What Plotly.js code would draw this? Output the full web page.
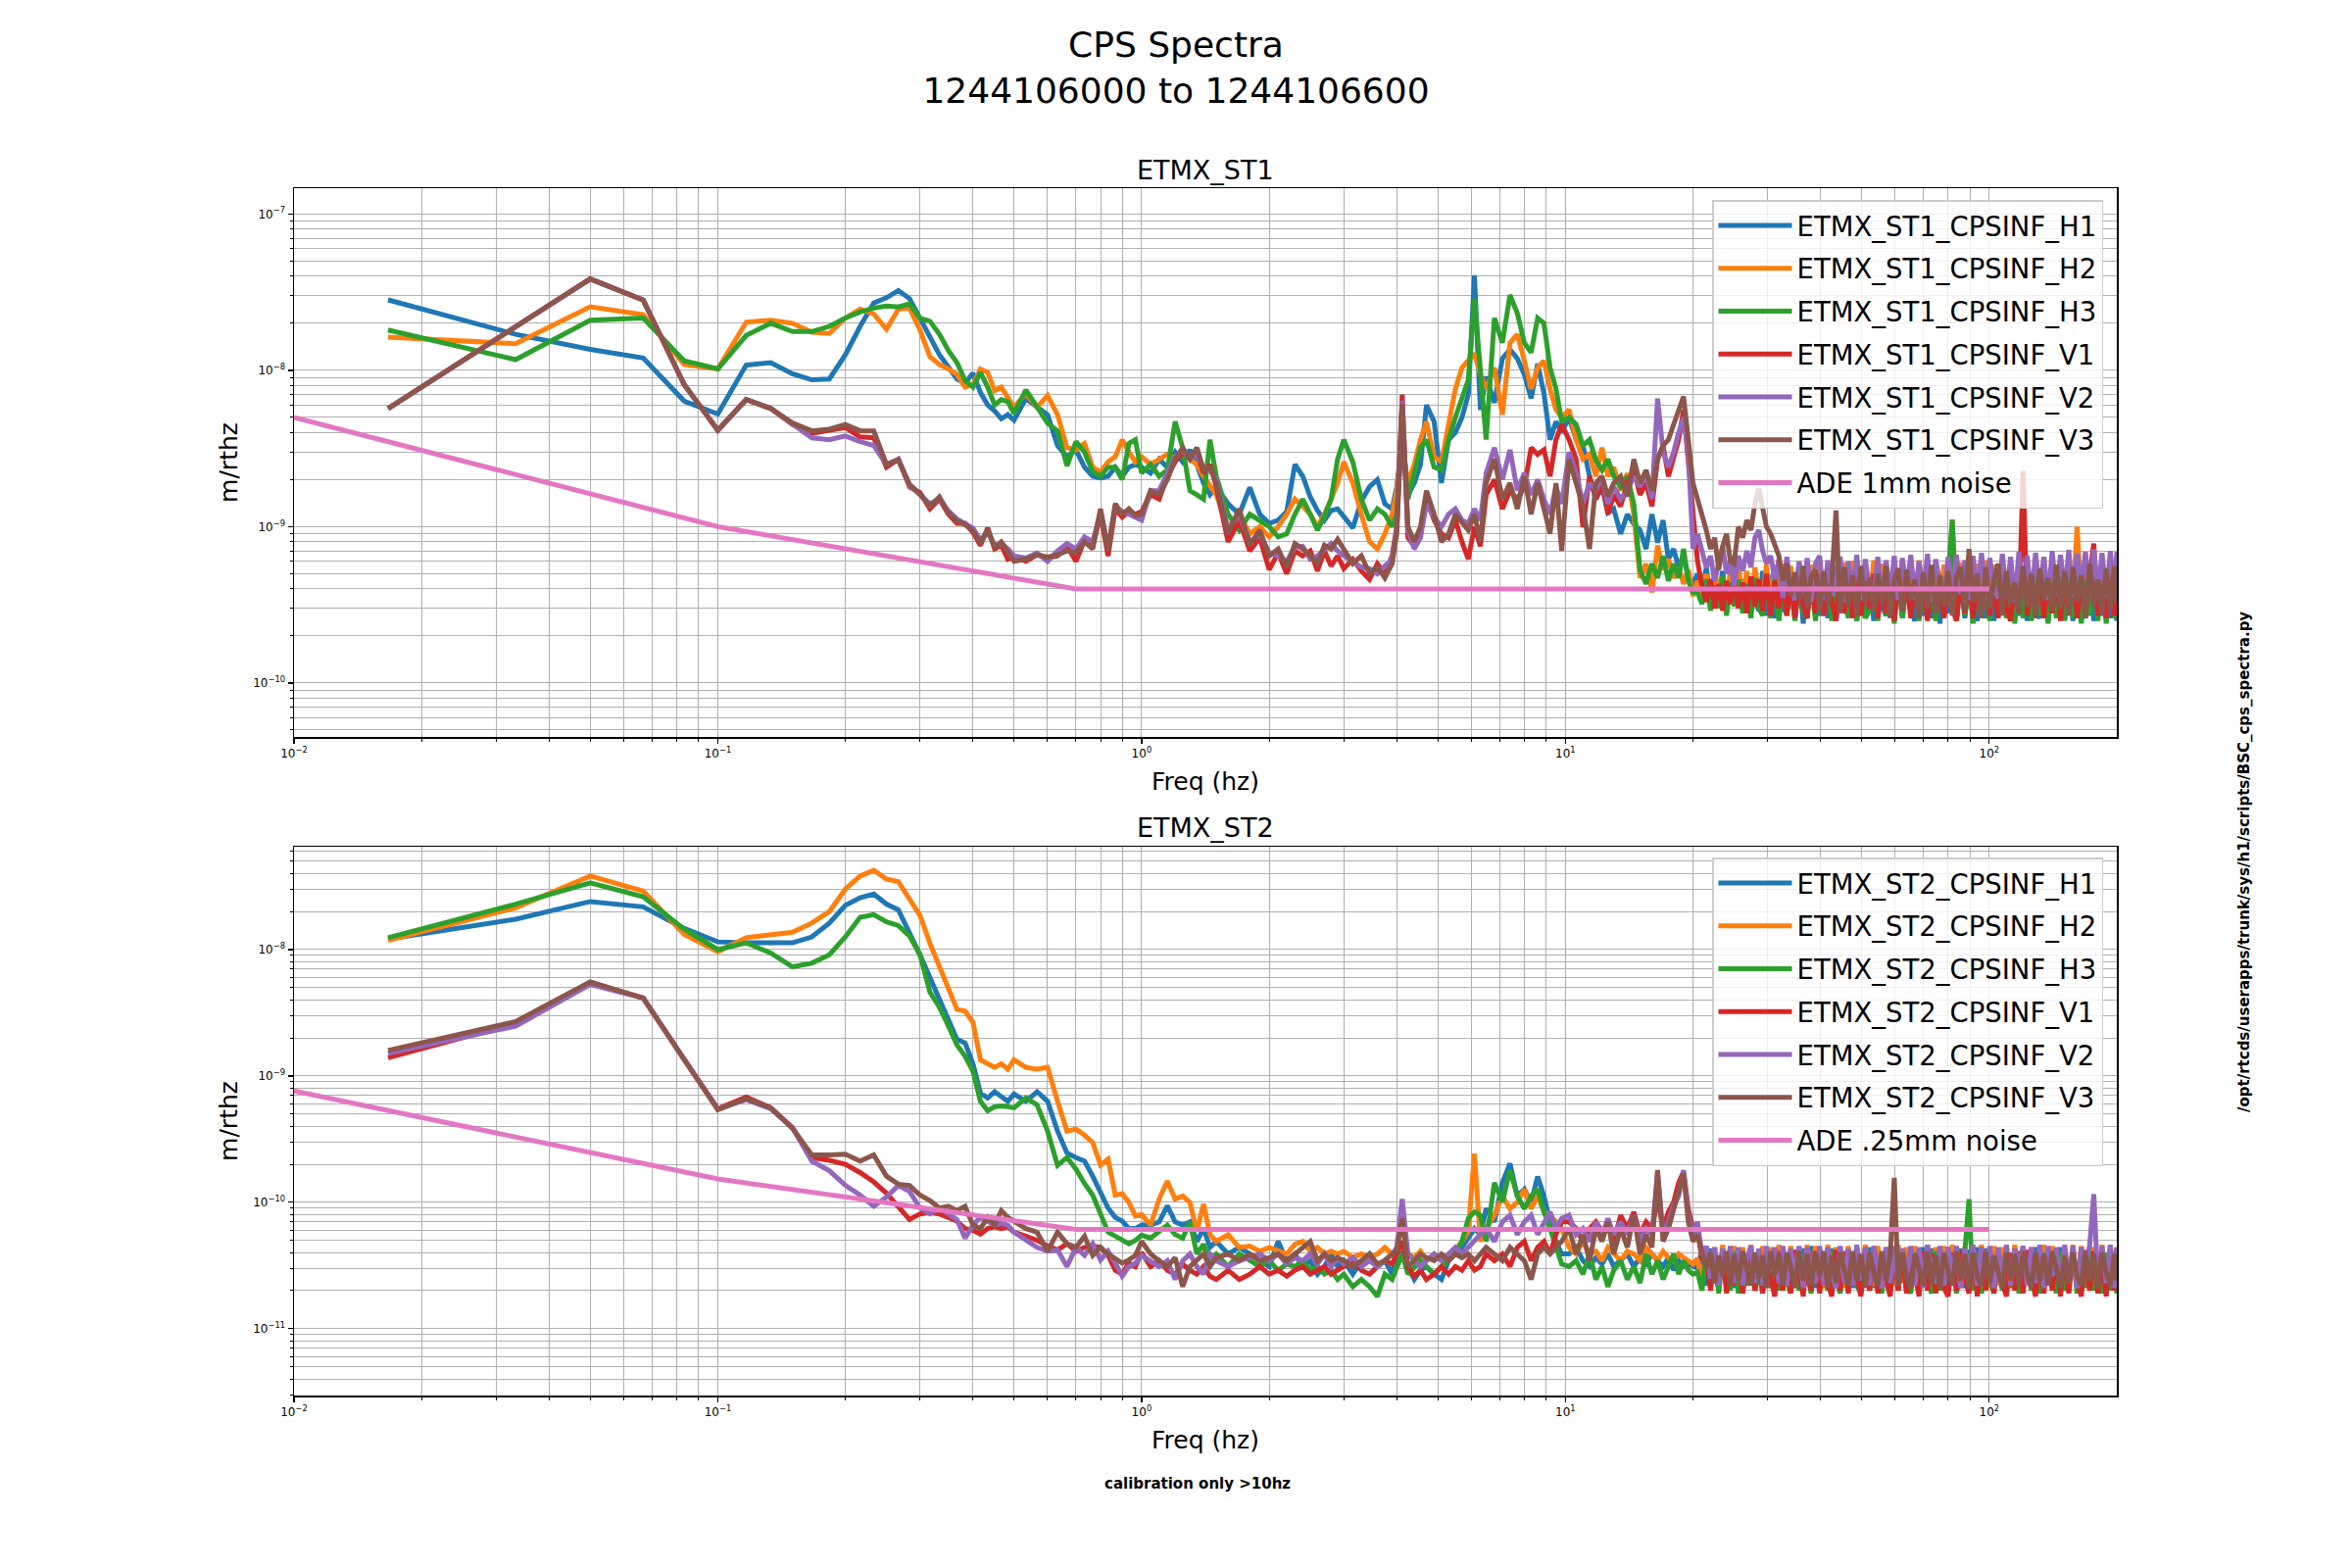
<!DOCTYPE html>
<html><head><meta charset="utf-8">
<script src="https://cdn.plot.ly/plotly-3.0.1.min.js"></script>
<style>html,body{margin:0;padding:0;background:#fff}#chart{width:2400px;height:1600px}</style>
</head><body><div id="chart"></div>
<script>
// Frequency bins (Hz)
const FREQ = [0.01667, 0.03333, 0.05, 0.06667, 0.08333, 0.1, 0.11667, 0.13333, 0.15, 0.16667, 0.18333, 0.2, 0.21667, 0.23333, 0.25, 0.26667, 0.28333, 0.3, 0.31667, 0.33333, 0.35, 0.36667, 0.38333, 0.4, 0.41667, 0.43333, 0.45, 0.46667, 0.48333, 0.5,
  0.53333, 0.56667, 0.6, 0.63333, 0.66667, 0.7, 0.73333, 0.76667, 0.8, 0.83333, 0.86667, 0.9, 0.93333, 0.96667, 1.0,
  1.05, 1.1, 1.15, 1.2, 1.25, 1.3, 1.35, 1.4, 1.45, 1.5, 1.6, 1.7, 1.8, 1.9, 2.0, 2.1, 2.2, 2.3, 2.4, 2.5, 2.6, 2.7, 2.8, 2.9, 3.0, 3.15, 3.3, 3.45, 3.6, 3.75, 3.9, 4.0, 4.12, 4.25, 4.4, 4.55, 4.7, 4.9, 5.1, 5.3, 5.5, 5.7, 5.9, 6.1, 6.3, 6.5, 6.8, 7.1, 7.4, 7.7, 8.0, 8.3, 8.6, 8.9, 9.2, 9.5, 9.8,
  10.2, 10.6, 11, 11.4, 11.8, 12.2, 12.6, 13, 13.5, 14, 14.5, 15, 15.5, 16, 16.5, 17, 17.5, 18, 18.5, 19, 19.5, 20,
  20.5, 21, 21.5, 22, 22.5, 23, 23.5, 24, 24.5, 25,
  25.6, 26.2, 26.8, 27.4, 28, 28.6, 29.2, 29.8, 30.5, 31.2,
  31.9, 32.6, 33.3, 34, 34.8, 35.6, 36.4, 37.2, 38, 38.9,
  39.8, 40.7, 41.6, 42.5, 43.5, 44.5, 45.5, 46.5, 47.6, 48.7,
  49.8, 51, 52.2, 53.4, 54.6, 55.8, 57.1, 58.4, 59.7, 61,
  62.4, 63.8, 65.3, 66.8, 68.3, 69.9, 71.5, 73.1, 74.8, 76.5,
  78.2, 80, 81.8, 83.7, 85.6, 87.6, 89.6, 91.6, 93.7, 95.9,
  98.1, 100.3, 102.6, 105, 107.4, 109.8, 112.3, 114.9, 117.5, 120.2,
  122.9, 125.7, 128.6, 131.6, 134.6, 137.7, 140.8, 144, 147.3, 150.7,
  154.1, 157.6, 161.2, 164.9, 168.7, 172.6, 176.5, 180.5, 184.6, 188.8,
  193.1, 197.5, 200];

// Spectral values in units of 1e-10 m/rthz
const UNIT = 1e-10;

const ST1_H1 = [282, 170, 136, 120, 63.5, 52.5, 108, 112, 95, 87, 88, 126, 191, 269, 291, 324, 288, 216, 160, 126, 105, 88, 83, 96, 72, 60, 55, 49, 52, 48,
  66, 58, 52, 33, 28, 31, 24, 21, 20.5, 21, 24, 21, 24, 25, 24,
  22, 27, 24, 30, 26, 31, 25, 19, 16, 18, 14, 12, 17.8, 12, 10.5, 11, 12.5, 25, 21, 15.5, 12.7, 11, 12.7, 13, 11.6, 9.8, 14.6, 18, 20, 14, 13, 18, 36, 16, 19, 25, 60, 47, 19, 36, 40, 50, 70, 406, 56, 91, 62, 119, 136, 119, 94, 66, 110, 71, 36, 47, 40,
  50, 36, 33, 21, 15, 18, 12.3, 13, 9, 12, 10.4, 9.5, 7.2, 12, 7.9, 11, 6.2, 7.2, 5.5, 6.5, 4.7, 4.3,
  5.0, 3.8, 5.5, 3.3, 4.8, 3.6, 5.2, 3.0, 4.6, 6.5,
  3.1, 4.6, 2.8, 4.7, 3.4, 2.9, 5.2, 2.7, 4.9, 2.6,
  4.8, 3.0, 2.8, 5.0, 2.6, 4.7, 2.4, 4.6, 3.2, 5.1,
  2.7, 4.8, 2.6, 5.0, 2.5, 4.9, 3.0, 2.7, 4.6, 2.5,
  5.0, 2.6, 4.8, 2.5, 4.9, 3.1, 2.7, 4.6, 2.5, 5.0,
  2.6, 4.7, 2.9, 2.5, 4.8, 2.7, 4.9, 2.6, 5.0, 2.4,
  4.6, 2.8, 4.8, 2.5, 4.9, 2.6, 4.7, 3.0, 2.5, 4.8,
  2.6, 5.0, 2.5, 4.7, 2.8, 4.9, 2.5, 4.6, 2.7, 5.0,
  2.5, 4.8, 2.9, 2.6, 4.9, 2.5, 4.7, 2.8, 5.0, 2.6,
  4.8, 2.5, 4.9, 3.0, 2.6, 4.7, 2.5, 4.8, 2.7, 4.9,
  2.6, 4.8, 2.5];
const ST1_H2 = [163, 148, 255, 227, 109, 102, 203, 209, 200, 175, 172, 216, 246, 229, 183, 246, 250, 181, 122, 109, 102, 94, 78, 81, 102, 97, 74, 78, 67, 58,
  71, 58, 69, 52, 32, 31, 34, 24, 22.4, 26, 28, 36, 30, 26, 28,
  25, 27, 29, 27, 31, 27, 25, 21, 18, 16, 10, 12, 9, 10, 8.6, 10, 12, 15, 13.5, 12, 10, 12, 15, 19, 26, 19, 12, 8, 7.2, 9, 12, 17, 33, 19, 25, 36, 47, 28, 26, 47, 76, 104, 115, 128, 94, 76, 104, 52, 150, 170, 115, 76, 104, 115, 76, 56, 50,
  56, 36, 27, 29, 21, 32, 21, 24, 17, 22, 12, 4.7, 5.8, 3.8, 7.6, 5.3, 6.2, 4.7, 5.5, 4.3, 5.3, 3.6,
  4.5, 3.5, 5.0, 3.2, 5.3, 3.6, 4.8, 3.1, 5.4, 3.3,
  5.6, 3.4, 5.2, 3.1, 5.5, 3.8, 3.2, 5.7, 3.3, 5.4,
  3.1, 5.8, 3.5, 5.6, 3.2, 5.9, 3.3, 3.0, 5.7, 3.4,
  6.0, 3.2, 5.8, 3.6, 5.5, 3.1, 5.9, 3.3, 6.0, 3.2,
  3.5, 5.7, 3.1, 6.1, 3.3, 5.8, 3.6, 3.2, 5.9, 3.1,
  6.0, 3.4, 5.6, 3.2, 6.1, 3.3, 5.8, 3.1, 6.0, 3.5,
  5.7, 3.2, 11.1, 3.3, 5.9, 3.1, 6.0, 3.4, 5.8, 3.2,
  6.1, 3.3, 5.7, 3.6, 6.2, 3.1, 5.9, 3.3, 6.0, 3.2,
  6.2, 3.4, 5.8, 3.1, 6.1, 3.3, 6.0, 3.5, 6.3, 3.2,
  5.9, 3.4, 10.0, 3.3, 6.2, 3.1, 6.0, 3.4, 6.3, 3.2,
  6.1, 3.3, 6.2];
const ST1_H3 = [181, 117, 209, 216, 115, 102, 167, 200, 177, 177, 191, 216, 236, 250, 258, 254, 266, 216, 206, 170, 134, 112, 86, 78, 97, 78, 60, 65, 63, 53,
  75, 58, 46, 41, 24.5, 35, 30, 22.4, 21, 24, 24, 20, 34, 36, 22,
  25, 21, 23, 47, 32, 17, 16, 15, 36, 21, 12, 9.5, 12, 11, 10, 8.6, 9, 12, 15, 12, 9.5, 11.6, 15, 27, 36, 26, 15, 11, 13, 12, 10, 12, 40, 15, 22, 32, 36, 24, 23, 36, 50, 68, 87, 287, 91, 36, 216, 150, 303, 232, 150, 130, 216, 200, 104, 76, 47,
  50, 45, 33, 36, 26.6, 23, 27, 21, 18, 21, 14, 5.3, 4.3, 5.8, 4.7, 6.5, 4.5, 5.8, 4.7, 7.2, 4.5, 3.8,
  3.8, 3.2, 4.6, 2.9, 4.2, 3.0, 4.8, 2.7, 4.4, 3.1,
  4.6, 2.8, 4.3, 2.6, 4.7, 3.0, 2.7, 4.5, 2.6, 4.8,
  2.5, 4.6, 2.7, 4.4, 2.5, 4.8, 2.9, 2.6, 4.7, 2.5,
  4.5, 2.7, 4.9, 2.5, 4.6, 2.8, 4.4, 2.6, 4.8, 2.5,
  4.7, 2.6, 2.9, 4.5, 2.5, 4.8, 2.7, 4.6, 2.4, 4.9,
  2.6, 4.5, 2.8, 4.7, 2.5, 4.6, 2.7, 4.4, 2.5, 4.8,
  2.6, 4.6, 11.1, 2.5, 4.7, 2.7, 4.5, 2.4, 4.8, 2.6,
  4.6, 2.5, 4.9, 2.7, 4.5, 2.6, 4.8, 2.4, 4.7, 2.6,
  4.5, 2.5, 4.8, 2.7, 4.6, 2.4, 4.9, 2.6, 4.5, 2.5,
  4.7, 2.6, 4.8, 2.4, 4.6, 2.7, 4.9, 2.5, 4.6, 2.4,
  4.8, 2.6, 4.7];
const ST1_V1 = [57, 190, 384, 281, 81, 41.4, 65, 57, 45, 39.5, 41, 43, 37.5, 37, 24, 27, 18, 16.5, 13, 15, 12, 10.5, 10.5, 9.2, 7.6, 9.8, 7.2, 7.6, 6.2, 6.4,
  6.0, 6.6, 6.3, 6.5, 7.5, 6.0, 8.2, 7.5, 12, 6.5, 13, 11.5, 12.5, 12, 12.5,
  16, 15, 21, 26, 30, 28, 30, 22, 25, 18, 8, 11, 7, 8.5, 5.3, 6.8, 5.0, 7.0, 6.5, 7.0, 5.2, 7.0, 5.6, 6.5, 5.4, 6.2, 5.2, 4.6, 5.8, 5.0, 6.5, 10, 70, 8.5, 7.5, 9, 15, 11, 9, 8.5, 11, 8, 6.2, 10, 7.5, 16, 20, 13, 17, 15, 18, 32, 29, 31, 21, 36, 45,
  36, 27, 9.9, 21, 15, 19, 12, 16, 13.5, 19, 23, 16, 19, 13.5, 27, 33, 21, 27, 36, 56, 27, 12,
  6.0, 4.2, 3.3, 4.6, 3.0, 4.3, 2.9, 4.5, 3.2, 4.7,
  3.0, 4.4, 2.8, 4.8, 3.1, 4.6, 2.9, 5.0, 2.7, 4.5,
  3.0, 4.8, 2.7, 4.3, 2.6, 4.9, 3.1, 2.6, 4.7, 2.8,
  5.0, 2.7, 4.6, 3.3, 2.5, 4.8, 2.8, 4.4, 2.6, 4.9,
  2.7, 4.5, 3.0, 5.0, 2.6, 4.7, 2.8, 4.2, 2.5, 4.8,
  2.9, 4.6, 2.6, 5.0, 3.1, 4.4, 2.5, 4.9, 2.8, 4.6,
  2.6, 4.8, 3.0, 2.5, 4.7, 2.8, 5.0, 2.6, 4.5, 2.9,
  4.9, 2.7, 4.4, 2.6, 5.0, 3.0, 2.5, 4.7, 2.8, 22.8,
  2.7, 4.6, 2.9, 5.1, 2.6, 4.5, 2.8, 4.9, 2.5, 4.7,
  3.0, 5.0, 2.6, 4.6, 2.8, 4.9, 7.8, 2.7, 4.5, 2.6,
  4.9, 2.7, 4.8];
const ST1_V2 = [57, 190, 384, 281, 81, 41.4, 65, 57, 45, 37, 36, 38, 35, 33, 25, 27, 18.4, 16, 14, 15, 12.6, 11.2, 10.4, 9.8, 8.2, 9.2, 7.6, 7.8, 7.2, 6.5,
  6.3, 6.8, 6.0, 7.0, 7.8, 7.2, 8.6, 8, 12.5, 7.4, 13.5, 12.5, 12, 11.5, 11,
  17, 17, 22, 28, 31, 27, 29, 24, 23, 20, 9.5, 12, 8, 9, 6.8, 6.5, 6.0, 7.4, 7.5, 6.2, 6.5, 7.2, 7.8, 7.0, 6.5, 6.0, 5.5, 5.4, 5.0, 5.6, 6.2, 9.5, 64, 9.5, 7.2, 8.5, 14, 11.5, 10, 12, 13, 11, 10.5, 13, 11, 22, 32, 20, 31, 17, 22, 16, 20, 15, 12, 18, 14,
  30, 22, 14, 19, 17, 21, 14, 18, 15, 17, 21, 18, 22, 15, 66, 30, 24, 30, 40, 50, 30, 7.2,
  9, 7, 5.5, 6.5, 4.5, 5.8, 7.5, 5, 6, 4.2,
  6.5, 5.2, 7.0, 5.5, 8.5, 9.5, 7, 5.8, 6.5, 4.6,
  6.2, 3.5, 6.4, 4.1, 3.4, 6.0, 3.7, 6.3, 3.3, 5.8,
  6.5, 3.4, 6.1, 3.6, 5.2, 6.4, 3.3, 6.0, 3.8, 6.6,
  3.4, 6.2, 4.0, 3.5, 6.4, 3.3, 6.1, 3.7, 6.5, 3.4,
  6.3, 3.9, 6.6, 3.4, 6.0, 3.6, 6.7, 3.3, 6.2, 4.2,
  3.5, 6.4, 3.4, 6.6, 3.7, 6.1, 3.4, 6.5, 3.6, 6.8,
  3.4, 6.3, 4.0, 3.5, 6.7, 3.6, 6.4, 3.3, 6.9, 3.7,
  6.5, 3.5, 6.8, 3.9, 6.4, 3.4, 7.0, 3.6, 6.6, 3.8,
  7.1, 3.5, 6.7, 4.1, 6.9, 3.6, 7.2, 3.7, 6.8, 3.5,
  7.0, 3.8, 6.9];
const ST1_V3 = [57, 190, 384, 281, 81, 41.4, 65, 57, 46, 41, 42, 45, 41, 41, 25, 26.7, 18.7, 16.1, 13.5, 15.5, 12.3, 10.9, 10.3, 9.4, 7.9, 9.6, 7.4, 8, 6.8, 6.0,
  6.2, 6.6, 6.4, 6.6, 7, 6.8, 8, 7.2, 13, 7, 14, 12, 13, 11.8, 12,
  17, 16, 20, 27, 32, 27, 32, 23, 24, 19, 9, 13, 7.6, 9.5, 6.5, 7.2, 5.5, 7.8, 7.2, 6.5, 5.8, 7.6, 7.2, 8.3, 7.2, 5.8, 6.5, 5.0, 5.5, 4.7, 5.8, 9, 61, 10, 8, 10, 17, 12, 8, 9, 12, 10.5, 9.5, 12, 8, 19, 27, 15, 19, 13, 21, 12, 19, 13, 9, 19, 7,
  27, 19, 13.5, 7.2, 19, 21, 15.6, 19, 21, 15.6, 27, 19, 23, 17, 27, 33, 36, 45, 56, 68, 36, 19,
  15, 12, 9.5, 7.2, 8.5, 5.3, 7.5, 9.0, 6.0, 5.8,
  10, 8.5, 11, 9.5, 14, 17.5, 13, 10, 9, 7.5,
  6.5, 4.5, 5.8, 3.6, 5.1, 3.4, 5.6, 3.0, 4.8, 5.3,
  2.9, 5.2, 3.2, 4.4, 12.7, 2.8, 5.5, 3.1, 4.9, 2.7,
  5.6, 3.3, 4.7, 2.9, 5.0, 3.2, 5.6, 2.6, 4.5, 5.4,
  2.9, 5.3, 3.4, 4.6, 2.6, 5.1, 3.0, 5.7, 2.8, 4.9,
  3.1, 5.2, 2.7, 4.8, 5.5, 2.9, 7.2, 3.3, 5.0, 2.6,
  5.5, 3.0, 4.6, 5.8, 2.7, 5.2, 3.2, 4.4, 2.8, 5.6,
  3.1, 5.0, 2.6, 5.4, 3.4, 4.7, 2.9, 5.7, 3.0, 5.2,
  2.7, 5.5, 3.3, 4.9, 2.6, 5.8, 3.1, 4.6, 2.8, 5.4,
  3.0, 5.6, 3.2];

const ST2_H1 = [121, 174, 240, 218, 147, 115, 113, 112, 113, 126, 162, 224, 257, 275, 229, 206, 137, 91, 60, 40, 27.5, 19.5, 18.2, 12.5, 7.3, 6.7, 7.5, 6.8, 6.3, 7.2,
  6.3, 7.5, 6.3, 3.66, 2.46, 2.26, 2.12, 1.61, 1.22, 0.90, 0.76, 0.71, 0.62, 0.62, 0.66,
  0.66, 0.70, 0.94, 0.70, 0.66, 0.70, 0.49, 0.62, 0.44, 0.49, 0.39, 0.44, 0.39, 0.345, 0.31, 0.49, 0.345, 0.39, 0.31, 0.345, 0.27, 0.31, 0.39, 0.31, 0.345, 0.27, 0.345, 0.39, 0.31, 0.345, 0.27, 0.39, 0.44, 0.31, 0.245, 0.29, 0.31, 0.27, 0.245, 0.345, 0.39, 0.44, 0.52, 0.62, 0.555, 0.89, 0.70, 1.43, 2.03, 1.12, 1.27, 1.0, 1.6, 1.12, 0.70, 0.49, 0.39,
  0.39, 0.44, 0.345, 0.31, 0.365, 0.325, 0.39, 0.31, 0.345, 0.39, 0.31, 0.365, 0.325, 0.39, 0.345, 0.31, 0.365, 0.29, 0.345, 0.31, 0.325, 0.31,
  0.30, 0.42, 0.22, 0.43, 0.26, 0.21, 0.44, 0.23, 0.42, 0.21,
  0.43, 0.28, 0.22, 0.44, 0.21, 0.42, 0.24, 0.43, 0.22, 0.41,
  0.21, 0.44, 0.23, 0.42, 0.27, 0.21, 0.43, 0.22, 0.45, 0.21,
  0.42, 0.25, 0.22, 0.43, 0.21, 0.44, 0.23, 0.42, 0.21, 0.43,
  0.27, 0.22, 0.44, 0.21, 0.43, 0.24, 0.42, 0.21, 0.44, 0.22,
  0.43, 0.21, 0.42, 0.26, 0.22, 0.44, 0.21, 0.43, 0.23, 0.42,
  0.21, 0.44, 0.28, 0.22, 0.43, 0.21, 0.42, 0.24, 0.44, 0.21,
  0.43, 0.22, 0.42, 0.26, 0.21, 0.44, 0.22, 0.43, 0.21, 0.42,
  0.25, 0.22, 0.44, 0.21, 0.43, 0.23, 0.42, 0.21, 0.44, 0.27,
  0.21, 0.43, 0.22, 0.42, 0.24, 0.21, 0.44, 0.22, 0.43, 0.21,
  0.42, 0.23, 0.43];
const ST2_H2 = [118, 214, 382, 290, 132, 96, 124, 130, 137, 162, 200, 301, 382, 424, 361, 345, 253, 186, 112, 74, 51, 33.7, 32.6, 26.5, 13.4, 12.5, 11.7, 12.5, 11.3, 13.4,
  11.7, 11.3, 11.7, 6.3, 3.66, 3.8, 3.4, 2.97, 1.97, 2.2, 1.14, 1.17, 1.0, 0.78, 0.8,
  0.66, 1.06, 1.47, 1.06, 1.12, 1.0, 0.59, 0.97, 0.555, 0.49, 0.555, 0.44, 0.45, 0.41, 0.44, 0.41, 0.39, 0.465, 0.49, 0.41, 0.44, 0.39, 0.41, 0.39, 0.41, 0.365, 0.39, 0.365, 0.39, 0.44, 0.39, 0.41, 0.44, 0.39, 0.365, 0.41, 0.345, 0.39, 0.345, 0.39, 0.41, 0.49, 0.59, 2.43, 0.49, 0.62, 0.79, 1.12, 0.89, 1.0, 1.27, 0.89, 1.12, 0.84, 0.79, 0.70, 0.62,
  0.44, 0.39, 0.49, 0.39, 0.41, 0.345, 0.44, 0.39, 0.345, 0.41, 0.39, 0.345, 0.44, 0.39, 0.345, 0.41, 0.365, 0.345, 0.39, 0.365, 0.345, 0.325,
  0.36, 0.22, 0.45, 0.24, 0.44, 0.21, 0.46, 0.27, 0.22, 0.45,
  0.21, 0.44, 0.23, 0.46, 0.22, 0.30, 0.45, 0.21, 0.44, 0.24,
  0.46, 0.22, 0.27, 0.45, 0.21, 0.44, 0.23, 0.46, 0.22, 0.45,
  0.24, 0.21, 0.46, 0.22, 0.44, 0.28, 0.21, 0.45, 0.23, 0.44,
  0.21, 0.46, 0.25, 0.22, 0.45, 0.21, 0.44, 0.29, 0.22, 0.46,
  0.23, 0.44, 0.21, 0.45, 0.26, 0.22, 0.46, 0.21, 0.44, 0.24,
  0.45, 0.22, 0.46, 0.27, 0.21, 0.44, 0.23, 0.45, 0.22, 0.46,
  0.25, 0.21, 0.45, 0.22, 0.44, 0.28, 0.21, 0.46, 0.23, 0.45,
  0.22, 0.44, 0.26, 0.21, 0.46, 0.22, 0.45, 0.24, 0.21, 0.44,
  0.23, 0.46, 0.22, 0.45, 0.27, 0.21, 0.44, 0.22, 0.46, 0.23,
  0.45, 0.21, 0.44];
const ST2_H3 = [124, 229, 338, 262, 145, 100, 113, 94, 73, 78, 91, 126, 180, 189, 166, 155, 128, 91, 46, 35, 24.8, 17.6, 14.3, 10.9, 6.3, 5.3, 5.7, 5.8, 5.7, 5.6,
  6.7, 5.9, 3.66, 1.96, 2.26, 1.83, 1.41, 1.14, 0.81, 0.58, 0.54, 0.50, 0.47, 0.50, 0.55,
  0.52, 0.59, 0.66, 0.555, 0.52, 0.70, 0.39, 0.465, 0.345, 0.39, 0.31, 0.39, 0.345, 0.31, 0.345, 0.29, 0.325, 0.31, 0.345, 0.29, 0.31, 0.27, 0.29, 0.245, 0.27, 0.215, 0.245, 0.215, 0.18, 0.27, 0.245, 0.31, 0.39, 0.27, 0.31, 0.345, 0.31, 0.27, 0.31, 0.345, 0.41, 0.49, 0.745, 0.84, 0.79, 0.49, 1.43, 1.0, 1.80, 1.12, 0.89, 1.12, 1.27, 0.84, 0.62, 0.44, 0.325,
  0.31, 0.345, 0.27, 0.39, 0.245, 0.31, 0.215, 0.29, 0.345, 0.245, 0.31, 0.23, 0.39, 0.27, 0.345, 0.245, 0.31, 0.39, 0.27, 0.345, 0.29, 0.27,
  0.28, 0.20, 0.39, 0.23, 0.40, 0.19, 0.38, 0.26, 0.20, 0.41,
  0.19, 0.39, 0.22, 0.40, 0.20, 0.29, 0.19, 0.41, 0.21, 0.38,
  0.20, 0.40, 0.24, 0.19, 0.41, 0.20, 0.39, 0.27, 0.19, 0.40,
  0.21, 0.38, 0.20, 0.41, 0.25, 0.19, 0.40, 0.20, 0.39, 0.22,
  0.19, 0.41, 0.20, 0.38, 0.28, 0.19, 0.40, 0.21, 0.39, 0.20,
  0.41, 0.23, 0.19, 0.40, 0.20, 0.38, 0.26, 0.19, 0.41, 0.20,
  0.39, 0.21, 0.40, 0.19, 0.27, 0.41, 1.06, 0.20, 0.38, 0.19,
  0.40, 0.24, 0.19, 0.41, 0.20, 0.39, 0.21, 0.40, 0.19, 0.28,
  0.41, 0.20, 0.38, 0.19, 0.40, 0.22, 0.39, 0.19, 0.41, 0.20,
  0.25, 0.40, 0.19, 0.38, 0.21, 0.41, 0.20, 0.39, 0.19, 0.40,
  0.20, 0.41, 0.19];
const ST2_V1 = [13.9, 26, 54.5, 41.4, 13.5, 5.5, 6.8, 5.6, 3.9, 2.26, 2.15, 2.0, 1.72, 1.45, 1.18, 0.93, 0.73, 0.81, 0.83, 0.81, 0.76, 0.71, 0.62, 0.60, 0.56, 0.62, 0.64, 0.62, 0.64, 0.58,
  0.54, 0.50, 0.45, 0.42, 0.47, 0.41, 0.44, 0.45, 0.44, 0.38, 0.29, 0.27, 0.33, 0.31, 0.40,
  0.31, 0.345, 0.29, 0.27, 0.325, 0.29, 0.27, 0.31, 0.26, 0.245, 0.29, 0.245, 0.27, 0.31, 0.27, 0.29, 0.26, 0.29, 0.31, 0.27, 0.29, 0.31, 0.27, 0.29, 0.31, 0.345, 0.29, 0.27, 0.31, 0.345, 0.325, 0.39, 0.49, 0.31, 0.26, 0.29, 0.245, 0.27, 0.31, 0.27, 0.31, 0.29, 0.345, 0.29, 0.31, 0.39, 0.345, 0.39, 0.31, 0.44, 0.49, 0.345, 0.44, 0.49, 0.39, 0.555, 0.70,
  0.70, 0.62, 0.49, 0.62, 0.70, 0.59, 0.66, 0.49, 0.79, 0.62, 0.84, 0.555, 0.70, 0.62, 1.06, 0.62, 0.84, 1.0, 1.43, 1.75, 0.89, 0.62,
  0.60, 0.35, 0.41, 0.20, 0.40, 0.24, 0.39, 0.19, 0.41, 0.22,
  0.40, 0.19, 0.33, 0.41, 0.20, 0.42, 0.19, 0.40, 0.25, 0.18,
  0.41, 0.20, 0.39, 0.19, 0.42, 0.27, 0.18, 0.40, 0.20, 0.41,
  0.19, 0.40, 0.23, 0.18, 0.42, 0.20, 0.41, 0.19, 0.40, 0.26,
  0.18, 0.41, 0.20, 0.42, 0.19, 0.40, 0.24, 0.18, 0.41, 0.20,
  0.40, 0.19, 0.42, 0.27, 0.18, 0.41, 0.20, 0.39, 0.19, 0.42,
  0.21, 0.18, 0.40, 0.20, 0.41, 0.25, 0.19, 0.42, 0.18, 0.40,
  0.20, 0.41, 0.19, 0.42, 0.23, 0.18, 0.40, 0.20, 0.41, 0.19,
  0.42, 0.26, 0.18, 0.41, 0.19, 0.40, 0.20, 0.42, 0.18, 0.41,
  0.19, 0.40, 0.24, 0.18, 0.42, 0.20, 0.41, 0.19, 0.40, 0.18,
  0.41, 0.20, 0.40];
const ST2_V2 = [15.1, 24.8, 53, 41.4, 13.5, 5.5, 6.5, 5.5, 3.9, 2.12, 1.78, 1.36, 1.14, 0.93, 1.1, 1.36, 1.22, 0.9, 0.81, 0.9, 0.81, 0.73, 0.52, 0.66, 0.76, 0.71, 0.66, 0.68, 0.66, 0.58,
  0.50, 0.44, 0.41, 0.42, 0.31, 0.44, 0.38, 0.47, 0.35, 0.41, 0.33, 0.26, 0.31, 0.33, 0.38,
  0.345, 0.31, 0.345, 0.245, 0.345, 0.39, 0.31, 0.27, 0.39, 0.345, 0.31, 0.345, 0.365, 0.39, 0.345, 0.39, 0.325, 0.365, 0.345, 0.39, 0.325, 0.39, 0.31, 0.365, 0.325, 0.365, 0.31, 0.345, 0.31, 0.345, 0.39, 0.44, 1.06, 0.39, 0.345, 0.31, 0.345, 0.39, 0.345, 0.39, 0.44, 0.39, 0.44, 0.49, 0.555, 0.62, 0.49, 0.70, 0.79, 0.555, 0.70, 0.79, 0.555, 0.70, 0.84, 0.62, 0.745,
  0.79, 0.555, 0.62, 0.49, 0.70, 0.555, 0.745, 0.555, 0.70, 0.555, 0.79, 0.49, 0.62, 0.555, 1.70, 0.555, 0.70, 0.94, 1.12, 1.80, 0.79, 0.555,
  0.70, 0.38, 0.45, 0.25, 0.44, 0.22, 0.43, 0.30, 0.45, 0.23,
  0.44, 0.22, 0.36, 0.45, 0.23, 0.43, 0.22, 0.45, 0.28, 0.44,
  0.23, 0.45, 0.22, 0.43, 0.26, 0.45, 0.21, 0.44, 0.32, 0.23,
  0.45, 0.22, 0.44, 0.27, 0.21, 0.45, 0.23, 0.43, 0.22, 0.46,
  0.24, 0.44, 0.22, 0.45, 0.30, 0.21, 0.44, 0.23, 0.45, 0.22,
  0.43, 0.26, 0.45, 0.22, 0.44, 0.21, 0.46, 0.29, 0.23, 0.45,
  0.22, 0.44, 0.25, 0.45, 0.21, 0.43, 0.23, 0.46, 0.22, 0.44,
  0.28, 0.45, 0.21, 0.44, 0.23, 0.46, 0.22, 0.43, 0.31, 0.45,
  0.22, 0.44, 0.23, 0.46, 0.21, 0.45, 0.26, 0.44, 0.22, 0.46,
  0.23, 0.45, 0.21, 0.44, 0.29, 0.46, 1.16, 0.22, 0.45, 0.23,
  0.46, 0.21, 0.44];
const ST2_V3 = [15.9, 26.9, 55.6, 41.4, 13.5, 5.4, 6.6, 5.6, 3.85, 2.37, 2.37, 2.4, 2.12, 2.37, 1.61, 1.39, 1.36, 1.14, 1.03, 0.9, 0.93, 0.86, 0.93, 0.66, 0.62, 0.76, 0.66, 0.86, 0.76, 0.71,
  0.62, 0.58, 0.41, 0.58, 0.47, 0.44, 0.54, 0.38, 0.44, 0.39, 0.36, 0.33, 0.35, 0.38, 0.49,
  0.39, 0.345, 0.31, 0.365, 0.215, 0.31, 0.345, 0.39, 0.31, 0.365, 0.39, 0.345, 0.39, 0.345, 0.365, 0.39, 0.345, 0.39, 0.44, 0.49, 0.345, 0.39, 0.345, 0.365, 0.345, 0.31, 0.345, 0.39, 0.325, 0.345, 0.39, 0.41, 0.745, 0.31, 0.345, 0.39, 0.365, 0.345, 0.39, 0.345, 0.39, 0.365, 0.39, 0.345, 0.39, 0.44, 0.39, 0.345, 0.44, 0.39, 0.345, 0.245, 0.39, 0.44, 0.39, 0.44, 0.49,
  0.62, 0.39, 0.555, 0.345, 0.62, 0.49, 0.70, 0.39, 0.62, 0.44, 0.79, 0.39, 0.555, 0.44, 1.80, 0.49, 0.62, 0.89, 1.27, 1.70, 0.70, 0.49,
  0.55, 0.42, 0.30, 0.40, 0.23, 0.38, 0.26, 0.41, 0.22, 0.39,
  0.24, 0.41, 0.30, 0.22, 0.40, 0.25, 0.38, 0.21, 0.41, 0.27,
  0.39, 0.22, 0.40, 0.31, 0.21, 0.41, 0.24, 0.39, 0.22, 0.40,
  0.26, 0.41, 0.21, 0.38, 0.23, 0.40, 0.29, 0.22, 0.41, 0.24,
  0.39, 0.21, 0.40, 0.27, 0.22, 0.41, 0.24, 0.38, 1.56, 0.22,
  0.40, 0.25, 0.21, 0.39, 0.30, 0.22, 0.41, 0.23, 0.38, 0.21,
  0.40, 0.28, 0.22, 0.41, 0.24, 0.39, 0.21, 0.40, 0.26, 0.22,
  0.41, 0.23, 0.38, 0.29, 0.21, 0.40, 0.24, 0.39, 0.22, 0.41,
  0.27, 0.21, 0.40, 0.24, 0.39, 0.22, 0.41, 0.30, 0.21, 0.38,
  0.23, 0.40, 0.26, 0.22, 0.41, 0.24, 0.39, 0.21, 0.40, 0.28,
  0.22, 0.39, 0.24];

// ADE reference noise curves
const ADE_FREQ = [0.01, 0.1, 0.7, 100];
const ADE_ST1 = [50, 10, 4.0, 4.0];
const ADE_ST2 = [7.6, 1.53, 0.61, 0.61];

const ST1_NAMES = ['ETMX_ST1_CPSINF_H1', 'ETMX_ST1_CPSINF_H2', 'ETMX_ST1_CPSINF_H3', 'ETMX_ST1_CPSINF_V1', 'ETMX_ST1_CPSINF_V2', 'ETMX_ST1_CPSINF_V3', 'ADE 1mm noise'];
const ST2_NAMES = ['ETMX_ST2_CPSINF_H1', 'ETMX_ST2_CPSINF_H2', 'ETMX_ST2_CPSINF_H3', 'ETMX_ST2_CPSINF_V1', 'ETMX_ST2_CPSINF_V2', 'ETMX_ST2_CPSINF_V3', 'ADE .25mm noise'];
const COLORS = ['#1f77b4', '#ff7f0e', '#2ca02c', '#d62728', '#9467bd', '#8c564b', '#e377c2'];
const X_TICK_EXP = [-2, -1, 0, 1, 2];
const Y1_TICK_EXP = [-10, -9, -8, -7];
const Y2_TICK_EXP = [-11, -10, -9, -8];

const FONT = 'DejaVu Sans';
const LW = 5;
const scale = a => a.map(v => v * UNIT);

const traces = [];
const st1 = [ST1_H1, ST1_H2, ST1_H3, ST1_V1, ST1_V2, ST1_V3];
const st2 = [ST2_H1, ST2_H2, ST2_H3, ST2_V1, ST2_V2, ST2_V3];
st1.forEach((s, i) => {
  traces.push({x: FREQ, y: scale(s), type: 'scatter', mode: 'lines', name: ST1_NAMES[i],
    line: {color: COLORS[i], width: LW}, xaxis: 'x', yaxis: 'y', legend: 'legend', legendgroup: 'a' + i});
});
traces.push({x: ADE_FREQ, y: scale(ADE_ST1), type: 'scatter', mode: 'lines', name: ST1_NAMES[6],
  line: {color: COLORS[6], width: LW}, xaxis: 'x', yaxis: 'y', legend: 'legend', legendgroup: 'a6'});
st2.forEach((s, i) => {
  traces.push({x: FREQ, y: scale(s), type: 'scatter', mode: 'lines', name: ST2_NAMES[i],
    line: {color: COLORS[i], width: LW}, xaxis: 'x2', yaxis: 'y2', legend: 'legend2', legendgroup: 'b' + i});
});
traces.push({x: ADE_FREQ, y: scale(ADE_ST2), type: 'scatter', mode: 'lines', name: ST2_NAMES[6],
  line: {color: COLORS[6], width: LW}, xaxis: 'x2', yaxis: 'y2', legend: 'legend2', legendgroup: 'b6'});

function minorVals(lo, hi) {
  const out = [];
  for (let d = Math.floor(lo); d <= Math.ceil(hi); d++) {
    for (let m = 2; m <= 9; m++) {
      const v = m * Math.pow(10, d);
      if (Math.log10(v) > lo && Math.log10(v) < hi) out.push(v);
    }
  }
  return out;
}
function tickText(e) { return '10<sup>' + (e < 0 ? '\u2212' + (-e) : String(e)) + '</sup>'; }

function logAxis(exps, range, domain, anchor, titleText, standoff) {
  return {
    type: 'log', range: range, domain: domain, anchor: anchor,
    tickmode: 'array', tickvals: exps.map(e => Math.pow(10, e)), ticktext: exps.map(tickText),
    ticks: 'outside', ticklen: 5, tickwidth: 1.3, tickcolor: '#000',
    showline: true, linecolor: '#000', linewidth: 1.5, mirror: true,
    showgrid: true, gridcolor: '#b0b0b0', gridwidth: 1, zeroline: false,
    minor: {tickmode: 'array', tickvals: minorVals(range[0], range[1]), ticks: 'outside', ticklen: 3, tickwidth: 1, tickcolor: '#000',
      showgrid: true, gridcolor: '#b0b0b0', gridwidth: 1},
    tickfont: {family: FONT, size: 12, color: '#000'},
    title: {text: titleText, font: {family: FONT, size: 25, color: '#000'}, standoff: standoff},
    automargin: false, fixedrange: true
  };
}

const XR = [-2, Math.log10(200)];
const Y1R = [-10.345, -6.835];
const Y2R = [-11.529, -7.186];

const legendBase = {
  xref: 'paper', yref: 'paper', x: 2146 / 2400, xanchor: 'right', yanchor: 'top',
  bgcolor: 'rgba(255,255,255,0.8)', bordercolor: '#cccccc', borderwidth: 1.5,
  font: {family: FONT, size: 27.5, color: '#000'}, traceorder: 'grouped', tracegroupgap: 5, itemwidth: 75
};

const annotations = [
  {text: 'ETMX_ST1', xref: 'paper', yref: 'paper', x: 0.5125, y: 1 - 173 / 1600, xanchor: 'center', yanchor: 'middle', showarrow: false, font: {family: FONT, size: 27, color: '#000'}},
  {text: 'ETMX_ST2', xref: 'paper', yref: 'paper', x: 0.5125, y: 1 - 845 / 1600, xanchor: 'center', yanchor: 'middle', showarrow: false, font: {family: FONT, size: 27, color: '#000'}},
  {text: '/opt/rtcds/userapps/trunk/sys/h1/scripts/BSC_cps_spectra.py', xref: 'paper', yref: 'paper', x: 2290 / 2400, y: 0.45, xanchor: 'center', yanchor: 'middle', textangle: -90, showarrow: false, font: {family: FONT, size: 15, color: '#000', weight: 'bold'}},
  {text: 'calibration only >10hz', xref: 'paper', yref: 'paper', x: 1222 / 2400, y: 1 - 1514 / 1600, xanchor: 'center', yanchor: 'middle', showarrow: false, font: {family: FONT, size: 15, color: '#000', weight: 'bold'}}
];

const layout = {
  width: 2400, height: 1600, margin: {l: 0, r: 0, t: 0, b: 0},
  paper_bgcolor: '#fff', plot_bgcolor: '#fff',
  font: {family: FONT, color: '#000'},
  title: {text: 'CPS Spectra<br>1244106000 to 1244106600', font: {family: FONT, size: 36, color: '#000'},
    x: 0.5, xanchor: 'center', xref: 'container', y: 1 - 58 / 1600, yanchor: 'middle', yref: 'container'},
  xaxis: logAxis(X_TICK_EXP, XR, [0.125, 0.9], 'y', 'Freq (hz)', 13),
  yaxis: logAxis(Y1_TICK_EXP, Y1R, [0.53, 0.88], 'x', 'm/rthz', 8),
  xaxis2: logAxis(X_TICK_EXP, XR, [0.125, 0.9], 'y2', 'Freq (hz)', 13),
  yaxis2: logAxis(Y2_TICK_EXP, Y2R, [0.11, 0.46], 'x2', 'm/rthz', 8),
  legend: Object.assign({}, legendBase, {y: 1 - 204 / 1600}),
  legend2: Object.assign({}, legendBase, {y: 1 - 875 / 1600}),
  annotations: annotations,
  showlegend: true
};

Plotly.newPlot('chart', traces, layout, {displayModeBar: false, staticPlot: true});
</script>
</body></html>
